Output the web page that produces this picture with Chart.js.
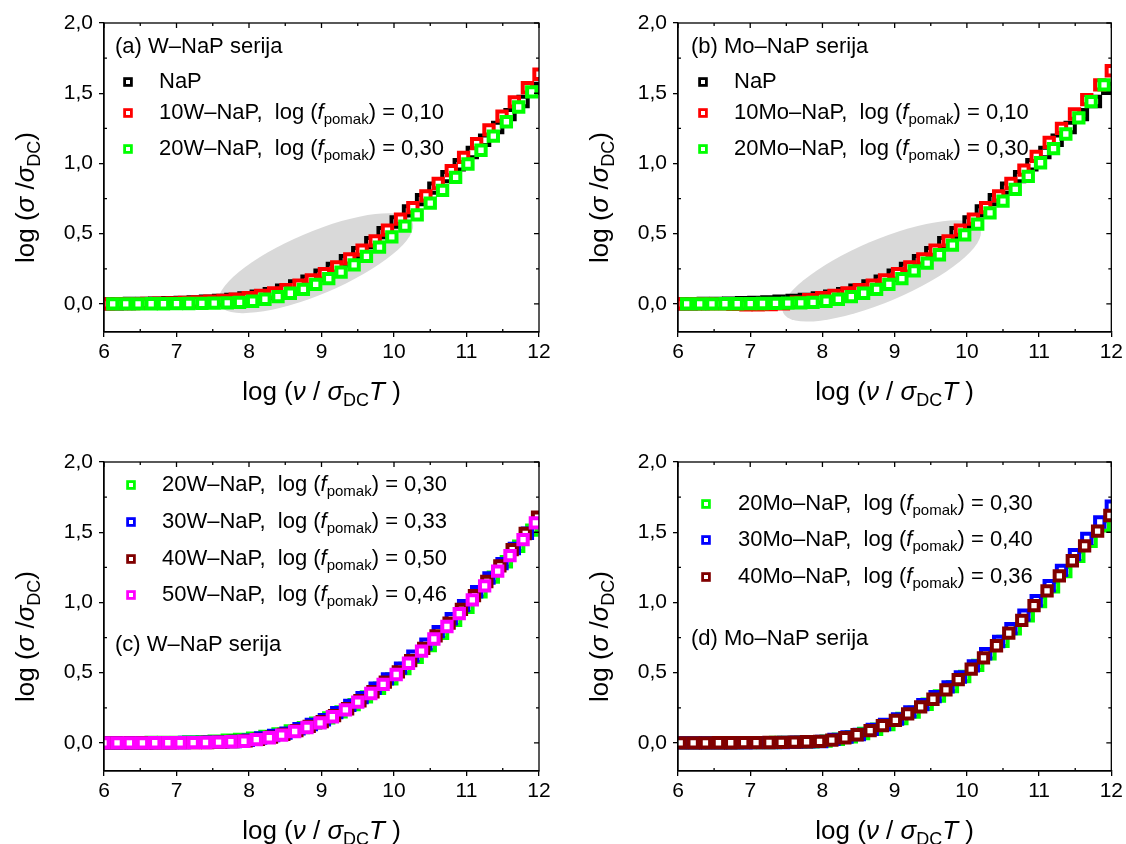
<!DOCTYPE html>
<html>
<head>
<meta charset="utf-8">
<script src="https://cdn.jsdelivr.net/npm/chart.js@4.4.0/dist/chart.umd.min.js"></script>
<style>
body { margin: 0; background: #fff; width: 1126px; height: 844px; position: relative; overflow: hidden; }
canvas { position: absolute; }
</style>
</head>
<body>
<canvas id="chartA" width="563" height="422" style="left:0;top:0"></canvas>
<canvas id="chartB" width="563" height="422" style="left:563px;top:0"></canvas>
<canvas id="chartC" width="563" height="422" style="left:0;top:422px"></canvas>
<canvas id="chartD" width="563" height="422" style="left:563px;top:422px"></canvas>
<script>
const FONT = "'Liberation Sans', Arial, sans-serif";

// axis ticks
const xTicks = [6, 7, 8, 9, 10, 11, 12];
const yTicks = [0, 0.5, 1, 1.5, 2];

// x positions, log(nu / sigma_DC T)
const gridA = [6.00,6.18,6.35,6.53,6.70,6.88,7.05,7.23,7.40,7.58,7.75,7.93,8.10,8.28,8.45,8.63,8.80,8.98,9.15,9.33,9.50,9.68,9.85,10.03,10.20,10.38,10.55,10.73,10.90,11.08,11.25,11.43,11.60,11.78,11.95];
const gridB = [6.06,6.24,6.41,6.59,6.76,6.94,7.11,7.29,7.46,7.64,7.81,7.99,8.16,8.34,8.51,8.69,8.86,9.04,9.21,9.39,9.56,9.74,9.91,10.09,10.26,10.44,10.61,10.79,10.96,11.14,11.31,11.49,11.66,11.84,12.00];
const gridC = [6.12,6.30,6.47,6.65,6.82,7.00,7.17,7.35,7.52,7.70,7.87,8.05,8.22,8.40,8.57,8.75,8.92,9.10,9.27,9.45,9.62,9.80,9.97,10.15,10.32,10.50,10.67,10.85,11.02,11.20,11.37,11.55,11.72,11.90];
const gridD = [6.03,6.21,6.38,6.56,6.73,6.91,7.08,7.26,7.43,7.61,7.78,7.96,8.13,8.31,8.48,8.66,8.83,9.01,9.18,9.36,9.53,9.71,9.88,10.06,10.23,10.41,10.58,10.76,10.93,11.11,11.28,11.46,11.63,11.81,11.98];

// log(sigma / sigma_DC)
const naP = [0.000,0.001,0.003,0.004,0.006,0.009,0.011,0.015,0.020,0.025,0.032,0.042,0.056,0.073,0.098,0.128,0.162,0.204,0.253,0.307,0.365,0.436,0.508,0.583,0.662,0.742,0.824,0.906,0.991,1.078,1.165,1.256,1.348,1.441,1.535];
const w10 = [0.000,0.002,0.002,0.004,0.006,0.007,0.011,0.015,0.019,0.025,0.034,0.044,0.060,0.079,0.102,0.133,0.171,0.215,0.264,0.321,0.383,0.449,0.525,0.604,0.685,0.769,0.857,0.949,1.043,1.141,1.239,1.337,1.438,1.539,1.635];
const w20 = [0.000,0.000,0.000,0.001,0.001,0.002,0.003,0.004,0.005,0.007,0.011,0.019,0.033,0.052,0.076,0.104,0.139,0.180,0.226,0.278,0.338,0.404,0.477,0.554,0.634,0.718,0.808,0.901,0.996,1.094,1.195,1.297,1.402,1.510];
const mo10 = [0.000,0.001,0.001,0.000,-0.003,-0.006,-0.007,-0.005,0.000,0.012,0.030,0.044,0.060,0.079,0.102,0.133,0.171,0.215,0.264,0.321,0.383,0.449,0.525,0.604,0.685,0.769,0.857,0.952,1.050,1.150,1.250,1.352,1.455,1.560,1.660];
const mo20 = [0.000,0.000,0.000,0.001,0.001,0.002,0.003,0.004,0.005,0.007,0.011,0.019,0.033,0.052,0.076,0.104,0.139,0.180,0.235,0.290,0.350,0.418,0.492,0.568,0.648,0.732,0.815,0.908,1.005,1.105,1.210,1.325,1.440,1.560];
const w20c = [0.000,0.001,0.002,0.003,0.003,0.004,0.007,0.009,0.013,0.019,0.025,0.033,0.046,0.064,0.085,0.109,0.141,0.178,0.221,0.272,0.328,0.389,0.456,0.530,0.609,0.693,0.781,0.873,0.966,1.075,1.180,1.290,1.400,1.515];
const w30c = [0.000,0.000,0.001,0.001,0.002,0.002,0.003,0.004,0.005,0.007,0.010,0.019,0.035,0.053,0.070,0.101,0.131,0.165,0.216,0.267,0.323,0.389,0.456,0.532,0.618,0.703,0.792,0.884,0.978,1.076,1.174,1.276,1.384,1.493,1.600];
const w40c = [0.000,0.000,0.000,0.001,0.001,0.001,0.002,0.002,0.003,0.005,0.010,0.014,0.025,0.041,0.061,0.087,0.118,0.152,0.194,0.243,0.300,0.364,0.433,0.506,0.586,0.673,0.762,0.853,0.951,1.049,1.149,1.261,1.376,1.491,1.607];
const w50c = [0.000,0.000,0.000,0.000,0.001,0.001,0.001,0.002,0.003,0.005,0.008,0.012,0.023,0.037,0.056,0.081,0.110,0.143,0.186,0.235,0.290,0.352,0.417,0.487,0.567,0.653,0.740,0.829,0.921,1.018,1.118,1.223,1.333,1.447,1.566];
const mo20d = [0.000,0.000,0.000,0.001,0.001,0.002,0.002,0.003,0.004,0.005,0.007,0.013,0.026,0.044,0.067,0.097,0.130,0.174,0.219,0.275,0.334,0.401,0.473,0.552,0.634,0.723,0.812,0.904,1.006,1.112,1.219,1.328,1.436,1.545];
const mo30d = [0.000,0.000,0.000,0.001,0.001,0.001,0.002,0.002,0.003,0.005,0.007,0.010,0.025,0.042,0.060,0.096,0.131,0.170,0.221,0.272,0.329,0.399,0.469,0.548,0.635,0.722,0.814,0.910,1.012,1.119,1.228,1.340,1.456,1.573,1.685];
const mo40d = [0.000,0.000,0.000,0.001,0.001,0.002,0.002,0.003,0.004,0.006,0.008,0.011,0.020,0.037,0.058,0.088,0.123,0.161,0.207,0.257,0.311,0.378,0.450,0.525,0.606,0.692,0.782,0.873,0.978,1.083,1.189,1.297,1.403,1.508,1.619];

// legend entries: sample name and log(f_pomak)
const namesA = ['NaP', '10W–NaP', '20W–NaP'];
const shiftsA = [null, 0.10, 0.30];
const namesB = ['NaP', '10Mo–NaP', '20Mo–NaP'];
const shiftsB = [null, 0.10, 0.30];
const namesC = ['20W–NaP', '30W–NaP', '40W–NaP', '50W–NaP'];
const shiftsC = [0.30, 0.33, 0.50, 0.46];
const namesD = ['20Mo–NaP', '30Mo–NaP', '40Mo–NaP'];
const shiftsD = [0.30, 0.40, 0.36];

const BLACK = '#000000', RED = '#ff0000', GREEN = '#00ff00', BLUE = '#0000ff', DRED = '#800000', MAG = '#ff00ff';

const panels = [
  { id: 'chartA', box: { left: 104, right: 539, top: 23, bottom: 332 },
    title: '(a) W–NaP serija', titleAt: [115, 47],
    legX: [128, 159], legY: [82, 113, 149], names: namesA, shifts: shiftsA,
    series: [[gridA, naP, BLACK], [gridB, w10, RED], [gridC, w20, GREEN]],
    ellipse: { x: 8.92, y: 0.29, a: 105, b: 31, rot: -23 } },
  { id: 'chartB', box: { left: 115, right: 550, top: 23, bottom: 332 },
    title: '(b) Mo–NaP serija', titleAt: [128, 47],
    legX: [140, 171], legY: [82, 113, 149], names: namesB, shifts: shiftsB,
    series: [[gridA, naP, BLACK], [gridB, mo10, RED], [gridC, mo20, GREEN]],
    ellipse: { x: 8.82, y: 0.235, a: 107, b: 31, rot: -23 } },
  { id: 'chartC', box: { left: 104, right: 539, top: 40, bottom: 349 },
    title: '(c) W–NaP serija', titleAt: [115, 223],
    legX: [131, 162], legY: [63, 100, 137, 173], names: namesC, shifts: shiftsC,
    series: [[gridC, w20c, GREEN], [gridB, w30c, BLUE], [gridD, w40c, DRED], [gridA, w50c, MAG]],
    ellipse: null },
  { id: 'chartD', box: { left: 115, right: 550, top: 40, bottom: 349 },
    title: '(d) Mo–NaP serija', titleAt: [128, 217],
    legX: [143, 175], legY: [82, 118, 155], names: namesD, shifts: shiftsD,
    series: [[gridC, mo20d, GREEN], [gridB, mo30d, BLUE], [gridD, mo40d, DRED]],
    ellipse: null }
];

function fontOf(p, size) {
  const s = p.sub ? Math.round(size * 0.68) : size;
  return (p.it ? 'italic ' : '') + s + 'px ' + FONT;
}
// draw text made of parts (italic / subscript)
function drawRich(ctx, parts, x, y, size, align) {
  let w = 0;
  for (const p of parts) { ctx.font = fontOf(p, size); w += ctx.measureText(p.t).width; }
  let cx = align === 'center' ? x - w / 2 : x;
  ctx.textAlign = 'left';
  ctx.textBaseline = 'middle';
  for (const p of parts) {
    ctx.font = fontOf(p, size);
    ctx.fillText(p.t, cx, p.sub ? y + size * 0.32 : y);
    cx += ctx.measureText(p.t).width;
  }
}
const fmt = v => v.toFixed(2).replace('.', ',');

const xTitle = [{ t: 'log (' }, { t: 'ν', it: 1 }, { t: ' / ' }, { t: 'σ', it: 1 }, { t: 'DC', sub: 1 }, { t: 'T', it: 1 }, { t: ' )' }];
const yTitle = [{ t: 'log (' }, { t: 'σ', it: 1 }, { t: ' /' }, { t: 'σ', it: 1 }, { t: 'DC', sub: 1 }, { t: ')' }];

const decoPlugin = {
  id: 'deco',
  beforeDatasetsDraw(chart) {
    const o = chart.options.plugins.deco;
    if (!o.ellipse) return;
    const ctx = chart.ctx, a = chart.chartArea;
    const e = o.ellipse;
    ctx.save();
    ctx.beginPath();
    ctx.rect(a.left, a.top, a.right - a.left, a.bottom - a.top);
    ctx.clip();
    ctx.fillStyle = '#d9d9d9';
    ctx.beginPath();
    ctx.ellipse(chart.scales.x.getPixelForValue(e.x), chart.scales.y.getPixelForValue(e.y),
      e.a, e.b, e.rot * Math.PI / 180, 0, Math.PI * 2);
    ctx.fill();
    ctx.restore();
  },
  afterDraw(chart) {
    const o = chart.options.plugins.deco;
    const ctx = chart.ctx, a = chart.chartArea;
    const xs = chart.scales.x, ys = chart.scales.y;
    ctx.save();
    // frame
    ctx.strokeStyle = '#000';
    ctx.lineWidth = 1.3;
    ctx.strokeRect(a.left, a.top, a.right - a.left, a.bottom - a.top);
    // minor ticks inward, mirrored ticks on top/right
    ctx.beginPath();
    for (let v = 6.5; v < 12; v += 1) {
      const px = xs.getPixelForValue(v);
      ctx.moveTo(px, a.bottom); ctx.lineTo(px, a.bottom - 3);
      ctx.moveTo(px, a.top); ctx.lineTo(px, a.top + 3);
    }
    for (const v of xTicks) {
      const px = xs.getPixelForValue(v);
      ctx.moveTo(px, a.top); ctx.lineTo(px, a.top + 5);
    }
    for (let v = 0.25; v < 2; v += 0.5) {
      const py = ys.getPixelForValue(v);
      ctx.moveTo(a.left, py); ctx.lineTo(a.left + 3, py);
      ctx.moveTo(a.right, py); ctx.lineTo(a.right - 3, py);
    }
    for (const v of yTicks) {
      const py = ys.getPixelForValue(v);
      ctx.moveTo(a.right, py); ctx.lineTo(a.right - 5, py);
    }
    ctx.stroke();

    ctx.fillStyle = '#000';
    // axis titles
    drawRich(ctx, xTitle, (a.left + a.right) / 2, a.bottom + 61, 26, 'center');
    ctx.save();
    ctx.translate(a.left - 77, (a.top + a.bottom) / 2 + 20);
    ctx.rotate(-Math.PI / 2);
    drawRich(ctx, yTitle, 0, 0, 26, 'center');
    ctx.restore();

    // panel title
    drawRich(ctx, [{ t: o.title }], o.titleAt[0], o.titleAt[1], 22, 'left');

    // legend
    o.names.forEach((name, i) => {
      const y = o.legY[i];
      const mx = o.legX[0];
      ctx.fillStyle = '#fff';
      ctx.fillRect(mx - 3.5, y - 3.5, 7, 7);
      ctx.strokeStyle = o.colors[i];
      ctx.lineWidth = 2.8;
      ctx.strokeRect(mx - 3.4, y - 3.4, 6.8, 6.8);
      ctx.fillStyle = '#000';
      const s = o.shifts[i];
      const parts = s === null ? [{ t: name }] :
        [{ t: name + ',  log (' }, { t: 'f', it: 1 }, { t: 'pomak', sub: 1 }, { t: ') = ' + fmt(s) }];
      drawRich(ctx, parts, o.legX[1], y, 22, 'left');
    });
    ctx.restore();
  }
};

for (const p of panels) {
  const datasets = p.series.map(([xv, yv, color], i) => ({
    data: xv.map((x, k) => ({ x: x, y: yv[k] })),
    borderColor: color,
    backgroundColor: '#ffffff',
    pointStyle: 'rect',
    pointRadius: 6.6,
    pointBorderWidth: 4,
    showLine: false,
    clip: 0,
    order: p.series.length - i
  }));
  new Chart(document.getElementById(p.id), {
    type: 'scatter',
    data: { datasets: datasets },
    options: {
      responsive: false,
      animation: false,
      events: [],
      layout: { padding: { left: 0, top: p.box.top, right: 563 - p.box.right, bottom: 0 } },
      plugins: {
        legend: { display: false },
        tooltip: { enabled: false },
        deco: {
          title: p.title, titleAt: p.titleAt, legX: p.legX, legY: p.legY,
          names: p.names, shifts: p.shifts, colors: p.series.map(s => s[2]),
          ellipse: p.ellipse
        }
      },
      scales: {
        x: {
          type: 'linear', min: 6, max: 12,
          afterBuildTicks: s => { s.ticks = xTicks.map(v => ({ value: v })); },
          afterFit: s => { s.height = 422 - p.box.bottom; },
          ticks: { font: { family: FONT, size: 21 }, color: '#000', padding: 3, maxRotation: 0,
                   callback: v => String(v) },
          grid: { drawOnChartArea: false, drawTicks: true, tickLength: 5, color: '#000', lineWidth: 1.3 },
          border: { display: true, color: '#000', width: 1.3 }
        },
        y: {
          type: 'linear', min: -0.2, max: 2.0,
          afterBuildTicks: s => { s.ticks = yTicks.map(v => ({ value: v })); },
          afterFit: s => { s.width = p.box.left; },
          ticks: { font: { family: FONT, size: 21 }, color: '#000', padding: 6,
                   callback: v => v.toFixed(1).replace('.', ',') },
          grid: { drawOnChartArea: false, drawTicks: true, tickLength: 5, color: '#000', lineWidth: 1.3 },
          border: { display: true, color: '#000', width: 1.3 }
        }
      }
    },
    plugins: [decoPlugin]
  });
}
</script>
</body>
</html>
